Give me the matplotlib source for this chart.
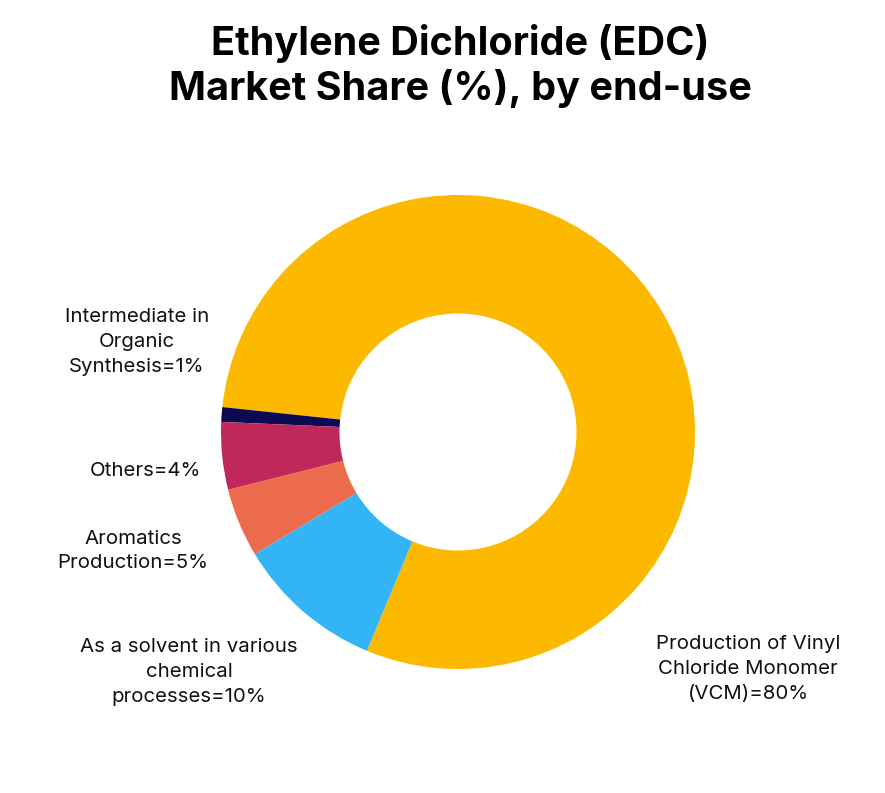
import matplotlib
matplotlib.use("Agg")
import matplotlib.pyplot as plt

# data, in drawing order (counter-clockwise from the bottom)
segments = ["Production of Vinyl\nChloride Monomer\n(VCM)=80%",
            "Intermediate in\nOrganic\nSynthesis=1%",
            "Others=4%",
            "Aromatics\nProduction=5%",
            "As a solvent in various\nchemical\nprocesses=10%"]
# slice sizes as measured on the picture (labels are rounded)
shares = [79.6, 1.0, 4.6, 4.7, 10.1]
colors = ["#FDB900", "#0B0A52", "#C0285A", "#EC6B4D", "#33B4F5"]

# where each label sits, in pixels from the top-left
label_px = [(748, 669), (137, 342), (145, 471), (133, 551), (189, 672)]

W, H = 885, 793
fig = plt.figure(figsize=(W / 100, H / 100), dpi=100)
fig.patch.set_facecolor("white")

cx, cy, r = 458, 432, 237
ax = fig.add_axes([(cx - r) / W, (H - cy - r) / H, 2 * r / W, 2 * r / H])
ax.pie(shares, colors=colors, startangle=247.4, counterclock=True, radius=1,
       wedgeprops=dict(width=0.5, linewidth=0))
ax.set_xlim(-1, 1)
ax.set_ylim(-1, 1)
ax.axis("off")

fig.text(460 / W, 1 - 66 / H, "Ethylene Dichloride (EDC)\nMarket Share (%), by end-use",
         ha="center", va="center", fontsize=28.5, fontweight="bold",
         family=["Inter", "DejaVu Sans"], linespacing=1.18)

for txt, (x, y) in zip(segments, label_px):
    fig.text(x / W, 1 - y / H, txt, ha="center", va="center", fontsize=14.7,
             family=["Inter", "DejaVu Sans"], linespacing=1.48, color="#111111")

fig.savefig("out.png", dpi=100)
